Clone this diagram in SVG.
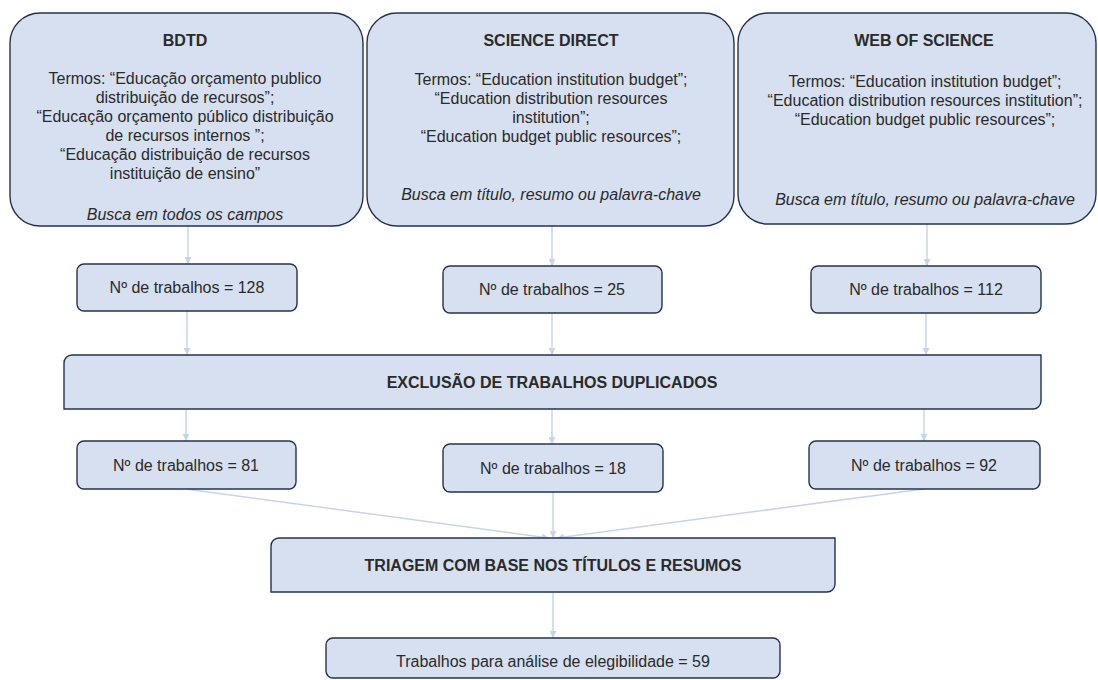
<svg xmlns="http://www.w3.org/2000/svg" width="1098" height="680" viewBox="0 0 1098 680">
<defs>
<style>
.box{fill:#d6e0f0;stroke:#25324f;stroke-width:1.4}
.t{font-family:"Liberation Sans",Arial,sans-serif;font-size:16px;fill:#2a2a2a;text-anchor:middle}
.b{font-weight:bold}
.i{font-style:italic}
.c{stroke:#c6d4ea;stroke-width:1.5;fill:none}
</style>
<marker id="ah" viewBox="0 0 10 10" refX="10" refY="5" markerWidth="7" markerHeight="7" markerUnits="userSpaceOnUse" orient="auto">
<path d="M0,0 L10,5 L0,10 Z" fill="#c6d4ea"/>
</marker>
</defs>
<rect width="1098" height="680" fill="#ffffff"/>
<g id="connectors">
<line class="c" x1="188" y1="226" x2="188" y2="264" marker-end="url(#ah)"/>
<line class="c" x1="552" y1="226" x2="552" y2="266" marker-end="url(#ah)"/>
<line class="c" x1="927" y1="224" x2="927" y2="266" marker-end="url(#ah)"/>
<line class="c" x1="187" y1="311" x2="187" y2="355" marker-end="url(#ah)"/>
<line class="c" x1="552" y1="313" x2="552" y2="355" marker-end="url(#ah)"/>
<line class="c" x1="926" y1="313" x2="926" y2="355" marker-end="url(#ah)"/>
<line class="c" x1="186" y1="409" x2="186" y2="441" marker-end="url(#ah)"/>
<line class="c" x1="552" y1="409" x2="552" y2="444" marker-end="url(#ah)"/>
<line class="c" x1="924" y1="409" x2="924" y2="441" marker-end="url(#ah)"/>
<line class="c" x1="186" y1="489" x2="549" y2="538" marker-end="url(#ah)"/>
<line class="c" x1="553" y1="492" x2="553" y2="538" marker-end="url(#ah)"/>
<line class="c" x1="924" y1="489" x2="557" y2="538" marker-end="url(#ah)"/>
<line class="c" x1="553" y1="592" x2="553" y2="638" marker-end="url(#ah)"/>
</g>
<g id="bdtd">
<rect class="box" x="10" y="13" width="353" height="213" rx="30" ry="30"/>
<text class="t b" x="185" y="46">BDTD</text>
<text class="t" x="185" y="84">Termos: “Educação orçamento publico</text>
<text class="t" x="185" y="103">distribuição de recursos”;</text>
<text class="t" x="185" y="122">“Educação orçamento público distribuição</text>
<text class="t" x="185" y="141">de recursos internos ”;</text>
<text class="t" x="185" y="160">“Educação distribuição de recursos</text>
<text class="t" x="185" y="179">instituição de ensino”</text>
<text class="t i" x="185" y="220">Busca em todos os campos</text>
</g>
<g id="sciencedirect">
<rect class="box" x="367" y="13" width="367" height="213" rx="30" ry="30"/>
<text class="t b" x="551" y="46">SCIENCE DIRECT</text>
<text class="t" x="551" y="85">Termos: “Education institution budget”;</text>
<text class="t" x="551" y="104">“Education distribution resources</text>
<text class="t" x="551" y="123">institution”;</text>
<text class="t" x="551" y="142">“Education budget public resources”;</text>
<text class="t i" x="551" y="200">Busca em título, resumo ou palavra-chave</text>
</g>
<g id="webofscience">
<rect class="box" x="738" y="13" width="358" height="211" rx="30" ry="30"/>
<text class="t b" x="924" y="46">WEB OF SCIENCE</text>
<text class="t" x="925" y="87">Termos: “Education institution budget”;</text>
<text class="t" x="925" y="106">“Education distribution resources institution”;</text>
<text class="t" x="925" y="125">“Education budget public resources”;</text>
<text class="t i" x="925" y="205">Busca em título, resumo ou palavra-chave</text>
</g>
<g id="n128">
<rect class="box" x="77" y="264" width="220" height="47" rx="7"/>
<text class="t" x="187" y="293">Nº de trabalhos = 128</text>
</g>
<g id="n25">
<rect class="box" x="443" y="266" width="219" height="47" rx="7"/>
<text class="t" x="552" y="295">Nº de trabalhos = 25</text>
</g>
<g id="n112">
<rect class="box" x="811" y="266" width="230" height="47" rx="7"/>
<text class="t" x="926" y="295">Nº de trabalhos = 112</text>
</g>
<g id="exclusao">
<path class="box" d="M72,355 H1041 V401 A8,8 0 0 1 1033,409 H64 V363 A8,8 0 0 1 72,355 Z"/>
<text class="t b" x="552" y="388">EXCLUSÃO DE TRABALHOS DUPLICADOS</text>
</g>
<g id="n81">
<rect class="box" x="77" y="441" width="219" height="48" rx="7"/>
<text class="t" x="186" y="471">Nº de trabalhos = 81</text>
</g>
<g id="n18">
<rect class="box" x="443" y="444" width="220" height="48" rx="7"/>
<text class="t" x="553" y="474">Nº de trabalhos = 18</text>
</g>
<g id="n92">
<rect class="box" x="809" y="441" width="231" height="48" rx="7"/>
<text class="t" x="924" y="471">Nº de trabalhos = 92</text>
</g>
<g id="triagem">
<path class="box" d="M279,538 H835 V584 A8,8 0 0 1 827,592 H271 V546 A8,8 0 0 1 279,538 Z"/>
<text class="t b" x="553" y="571">TRIAGEM COM BASE NOS TÍTULOS E RESUMOS</text>
</g>
<g id="final">
<rect class="box" x="326" y="638" width="454" height="40" rx="7"/>
<text class="t" x="553" y="667">Trabalhos para análise de elegibilidade = 59</text>
</g>
</svg>
